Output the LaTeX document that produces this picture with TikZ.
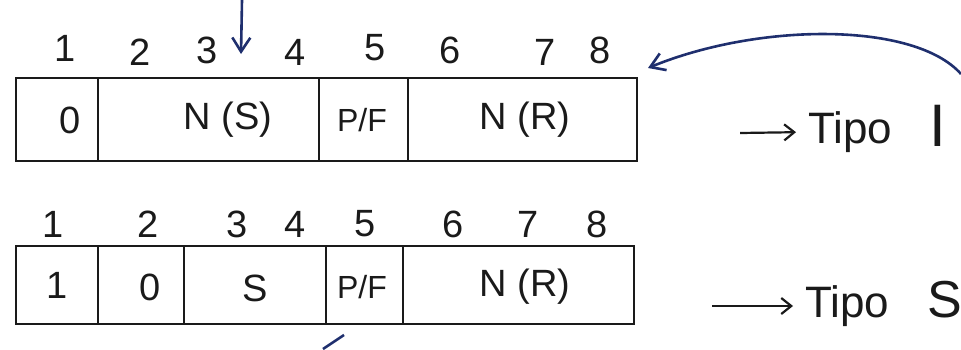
\documentclass[tikz,border=0pt]{standalone}
\usepackage{fontspec}
\setmainfont{Liberation Sans}
\usetikzlibrary{arrows.meta}
\definecolor{ink}{HTML}{1A1A1A}
\definecolor{pen}{HTML}{1F2F6E}
\begin{document}
\begin{tikzpicture}[x=0.5pt,y=-0.5pt,
  cell/.style={draw=ink,line width=1.1pt,minimum height=#1*0.5pt,inner sep=0pt,anchor=north west},
  bit/.style={font=\fontsize{19}{19}\selectfont,text=ink,inner sep=0pt},
  lab/.style={font=\fontsize{19}{19}\selectfont,text=ink,inner sep=0pt},
  tipo/.style={font=\fontsize{22}{22}\selectfont,text=ink,inner sep=0pt,anchor=west},
  big/.style={font=\fontsize{30}{30}\selectfont,text=ink,inner sep=0pt},
  conn/.style={draw=ink,line width=1.1pt,shorten >=6pt,-{Straight Barb[length=5pt,width=8pt]}},
  bluearrow/.style={draw=pen,line width=1.3pt,-{Straight Barb[length=7pt,width=9pt]}}]
\useasboundingbox (0,0) rectangle (961,349);
% row 1
\node[cell=83,minimum width=41pt] (a0) at (15,77) {};
\node[cell=83,minimum width=110.5pt] (a1) at (97,77) {};
\node[cell=83,minimum width=44.5pt] (a2) at (318,77) {};
\node[cell=83,minimum width=114.5pt] (a3) at (407,77) {};
\node[lab] (l0) at (70,120) {0};
\node[lab] (l1) at (228,120) {N (S)};
\node[lab,font=\fontsize{16}{16}\selectfont] (l2) at (362,120) {P/F};
\node[lab] (l3) at (525,120) {N (R)};
\foreach \n/\x/\y in {1/65/48,2/140/52,3/207/50,4/295/52,5/375/48,6/450/50,7/545/52,8/600/50}
  \node[bit] (ta\n) at (\x,\y) {\n};
\node[tipo] (tipoI) at (808,132) {Tipo};
\node[big] (kI) at (938,126) {I};
\coordinate (s1) at (740,133);
\draw[conn] (s1) -- (tipoI.west);
% row 2
\node[cell=78,minimum width=41pt] (b0) at (15,245) {};
\node[cell=78,minimum width=43pt] (b1) at (97,245) {};
\node[cell=78,minimum width=71pt] (b2) at (183,245) {};
\node[cell=78,minimum width=38.5pt] (b3) at (325,245) {};
\node[cell=78,minimum width=115.5pt] (b4) at (402,245) {};
\node[lab] (m0) at (57,285) {1};
\node[lab] (m1) at (150,287) {0};
\node[lab] (m2) at (255,288) {S};
\node[lab,font=\fontsize{16}{16}\selectfont] (m3) at (362,287) {P/F};
\node[lab] (m4) at (525,287) {N (R)};
\foreach \n/\x/\y in {1/53,2/148,3/237,4/295,5/365,6/453,7/528,8/597}
  \node[bit] (tb\n) at (\x,224) {\n};
\node[tipo] (tipoS) at (805,306) {Tipo};
\node[big,font=\fontsize{26}{26}\selectfont] (kS) at (945,300) {S};
\coordinate (s2) at (712,306);
\draw[conn] (s2) -- (tipoS.west);
% blue marks
\coordinate (d0) at (242,0);
\coordinate (d1) at (241,54);
\draw[bluearrow] (d0) -- (d1);
\coordinate (c0) at (961,74);
\coordinate (c1) at (648,68);
\draw[bluearrow] (c0) .. controls (915,22) and (760,22) .. (c1);
\coordinate (e0) at (323,349);
\coordinate (e1) at (344,335);
\draw[pen,line width=1.3pt] (e0) -- (e1);
\end{tikzpicture}
\end{document}
